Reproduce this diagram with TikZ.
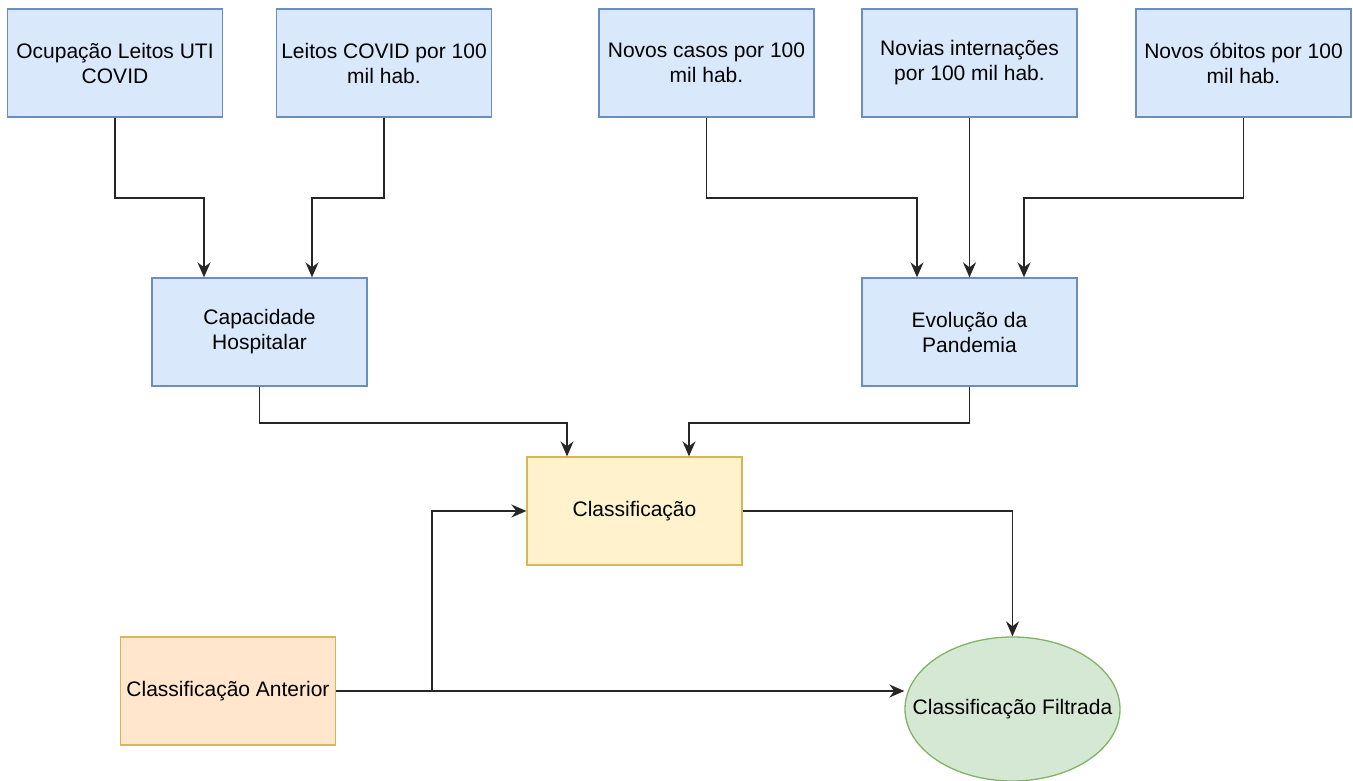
\documentclass[tikz,border=0pt]{standalone}
\usepackage{fontspec}
\setmainfont{Liberation Sans}
\usetikzlibrary{arrows.meta, shapes.geometric}
\definecolor{azulF}{HTML}{DAE8FC}
\definecolor{azulB}{HTML}{6C8EBF}
\definecolor{amarF}{HTML}{FFF2CC}
\definecolor{amarB}{HTML}{D6B656}
\definecolor{laraF}{HTML}{FFE6CC}
\definecolor{verdF}{HTML}{D5E8D4}
\definecolor{verdB}{HTML}{82B366}

\begin{document}
\begin{tikzpicture}[x=1pt, y=-1pt,
    caixa/.style={draw=azulB, fill=azulF, line width=1.3pt, minimum width=215pt, minimum height=108pt,
        inner sep=2pt, align=center, font=\fontsize{21}{25}\selectfont},
    seta/.style={line width=1.8pt, draw=black!85, -{Stealth[length=15pt, width=13pt, inset=5pt]}}]
    \useasboundingbox (0,0) rectangle (1353,781);
    \node[caixa] (O) at (115,63) {Ocupação Leitos UTI\\COVID};
    \node[caixa] (L) at (384,63) {Leitos COVID por 100\\mil hab.};
    \node[caixa] (N) at (706.5,63) {Novos casos por 100\\mil hab.};
    \node[caixa] (I) at (969.5,63) {Novias internações\\por 100 mil hab.};
    \node[caixa] (B) at (1243.5,63) {Novos óbitos por 100\\mil hab.};
    \node[caixa] (C) at (259.5,332) {Capacidade\\Hospitalar};
    \node[caixa] (E) at (969.5,332) {Evolução da\\Pandemia};
    \node[caixa, draw=amarB, fill=amarF] (K) at (634.5,511) {Classificação};
    \node[caixa, draw=amarB, fill=laraF] (A) at (228,691) {Classificação Anterior};
    \node[caixa, ellipse, draw=verdB, fill=verdF, minimum height=144pt, inner sep=0pt] (F) at (1012.5,709)
        {\makebox[0pt][c]{Classificação Filtrada}};
    \draw[seta] (O.south) -- ++(0,80) -| ([xshift=-55.5pt]C.north);
    \draw[seta] (L.south) -- ++(0,80) -| ([xshift=52.5pt]C.north);
    \draw[seta] (N.south) -- ++(0,80) -| ([xshift=-52.5pt]E.north);
    \draw[seta] (I.south) -- (E.north);
    \draw[seta] (B.south) -- ++(0,80) -| ([xshift=54.5pt]E.north);
    \draw[seta] (C.south) -- ++(0,36) -| ([xshift=-67.5pt]K.north);
    \draw[seta] (E.south) -- ++(0,36) -| ([xshift=54.5pt]K.north);
    \draw[seta] (K.east) -| (F.north);
    \draw[seta] (A.east) -- (A.east -| F.west);
    \draw[seta] ([xshift=96pt]A.east) |- (K.west);
    \end{tikzpicture}
\end{document}
